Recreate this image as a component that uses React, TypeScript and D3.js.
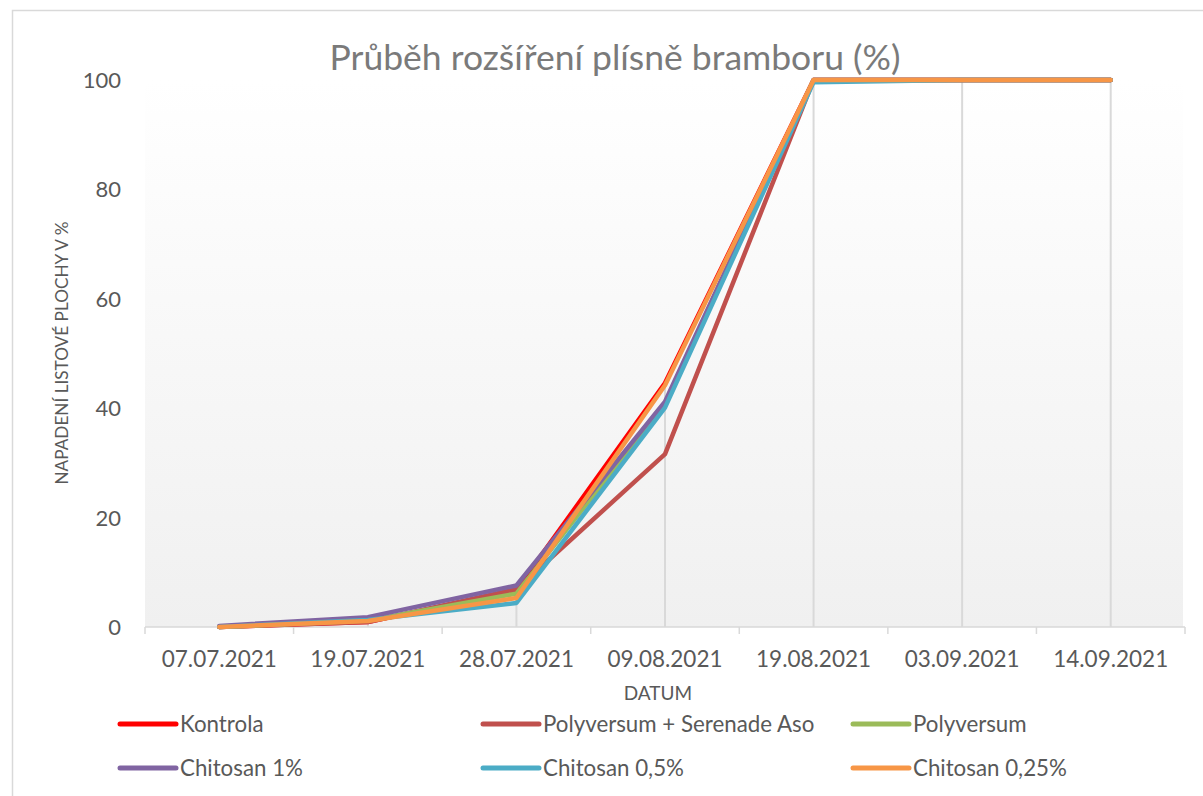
import { useEffect, useRef } from 'react';
import * as d3 from 'd3';

// dates on the category axis
const dates = ['07.07.2021', '19.07.2021', '28.07.2021', '09.08.2021', '19.08.2021', '03.09.2021', '14.09.2021'];

// napadení listové plochy v %
const kontrola = [0, 0.9, 6.8, 44.6, 100, 100, 100];
const polyversumSerenade = [0, 0.9, 6.9, 31.6, 100, 100, 100];
const polyversum = [0, 1.2, 6.1, 40.8, 100, 100, 100];
const chitosan1 = [0.2, 1.8, 7.6, 41.2, 100, 100, 100];
const chitosan05 = [0, 1.3, 4.4, 40.1, 99.6, 100, 100];
const chitosan025 = [0, 1.1, 5.3, 44.2, 100, 100, 100];

const seriesNames = ['Kontrola', 'Polyversum + Serenade Aso', 'Polyversum', 'Chitosan 1%', 'Chitosan 0,5%', 'Chitosan 0,25%'];
const seriesColors = ['#ff0000', '#c0504d', '#9bbb59', '#8064a2', '#4bacc6', '#f79646'];
const seriesValues = [kontrola, polyversumSerenade, polyversum, chitosan1, chitosan05, chitosan025];

const yTicks = [0, 20, 40, 60, 80, 100];

const FONT = 'Lato, "Open Sans", sans-serif';
const TEXT = '#595959';

export default function App() {
    const ref = useRef<SVGSVGElement>(null);

    useEffect(() => {
        const svg = d3.select(ref.current);
        svg.selectAll('*').remove();

        const left = 145, right = 1185, top = 80, bottom = 627;

        const x = d3.scaleBand().domain(dates).range([left, right]);
        const cx = (d: string) => (x(d) as number) + x.bandwidth() / 2;
        const y = d3.scaleLinear().domain([0, 100]).range([bottom, top]);

        // chart frame
        svg.append('rect')
            .attr('x', 12.5).attr('y', 10.5)
            .attr('width', 1210).attr('height', 800)
            .attr('fill', '#fff').attr('stroke', '#d9d9d9').attr('stroke-width', 1.5);

        // plot area gradient
        const grad = svg.append('defs').append('linearGradient')
            .attr('id', 'bg').attr('x1', 0).attr('y1', 0).attr('x2', 0).attr('y2', 1);
        grad.append('stop').attr('offset', '0%').attr('stop-color', '#ffffff');
        grad.append('stop').attr('offset', '100%').attr('stop-color', '#f0f0f0');
        svg.append('rect')
            .attr('x', left).attr('y', top)
            .attr('width', right - 2 - left).attr('height', bottom - top)
            .attr('fill', 'url(#bg)');

        // title
        svg.append('text')
            .attr('x', 615).attr('y', 70)
            .attr('text-anchor', 'middle')
            .attr('font-family', FONT).attr('font-size', 35.5)
            .attr('fill', '#7a7a7a')
            .text('Průběh rozšíření plísně bramboru (%)');

        // drop lines
        svg.append('g').selectAll('line')
            .data(dates)
            .join('line')
            .attr('x1', d => cx(d)).attr('x2', d => cx(d))
            .attr('y1', (d, i) => y(d3.max(seriesValues, s => s[i]) as number))
            .attr('y2', y(0))
            .attr('stroke', '#d9d9d9').attr('stroke-width', 2);

        // x axis
        const xAxis = svg.append('g');
        xAxis.append('line')
            .attr('x1', left).attr('x2', right)
            .attr('y1', bottom).attr('y2', bottom)
            .attr('stroke', '#d9d9d9').attr('stroke-width', 1.5);
        const bounds = dates.map(d => x(d) as number).concat([right]);
        xAxis.selectAll('.tick')
            .data(bounds)
            .join('line')
            .attr('class', 'tick')
            .attr('x1', d => d).attr('x2', d => d)
            .attr('y1', bottom).attr('y2', bottom + 7)
            .attr('stroke', '#d9d9d9').attr('stroke-width', 1.5);
        xAxis.selectAll('text')
            .data(dates)
            .join('text')
            .attr('x', d => cx(d)).attr('y', 667)
            .attr('text-anchor', 'middle')
            .attr('font-family', FONT).attr('font-size', 22.5)
            .attr('fill', TEXT)
            .text(d => d);

        // y axis labels
        svg.append('g').selectAll('text')
            .data(yTicks)
            .join('text')
            .attr('x', 121).attr('y', d => y(d) + 8)
            .attr('text-anchor', 'end')
            .attr('font-family', FONT).attr('font-size', 22)
            .attr('fill', TEXT)
            .text(d => d);

        // axis titles
        svg.append('text')
            .attr('x', 658).attr('y', 700)
            .attr('text-anchor', 'middle')
            .attr('font-family', FONT).attr('font-size', 19)
            .attr('fill', TEXT)
            .text('DATUM');
        svg.append('text')
            .attr('transform', `translate(68,353) rotate(-90)`)
            .attr('text-anchor', 'middle')
            .attr('font-family', FONT).attr('font-size', 17.2)
            .attr('fill', TEXT)
            .text('NAPADENÍ LISTOVÉ PLOCHY V %');

        // series lines
        const line = d3.line<number>()
            .x((d, i) => cx(dates[i]))
            .y(d => y(d));
        svg.append('g').selectAll('path')
            .data(seriesValues)
            .join('path')
            .attr('d', d => line(d))
            .attr('fill', 'none')
            .attr('stroke', (d, i) => seriesColors[i])
            .attr('stroke-width', 4.5)
            .attr('stroke-linejoin', 'round')
            .attr('stroke-linecap', 'round');

        // legend
        const colX = [120, 483, 853];
        const rowY = [724, 768];
        const items = svg.append('g').selectAll('g')
            .data(seriesNames)
            .join('g')
            .attr('transform', (d, i) => `translate(${colX[i % 3]},${rowY[Math.floor(i / 3)]})`);
        items.append('line')
            .attr('x1', 0).attr('x2', 56)
            .attr('stroke', (d, i) => seriesColors[i])
            .attr('stroke-width', 5)
            .attr('stroke-linecap', 'round');
        items.append('text')
            .attr('x', 60).attr('y', 8)
            .attr('font-family', FONT).attr('font-size', 22.3)
            .attr('fill', TEXT)
            .text(d => d);
    }, []);

    return (
        <svg ref={ref} width={1203} height={796}
            style={{ position: 'absolute', left: 0, top: 0, background: '#fff' }} />
    );
}
